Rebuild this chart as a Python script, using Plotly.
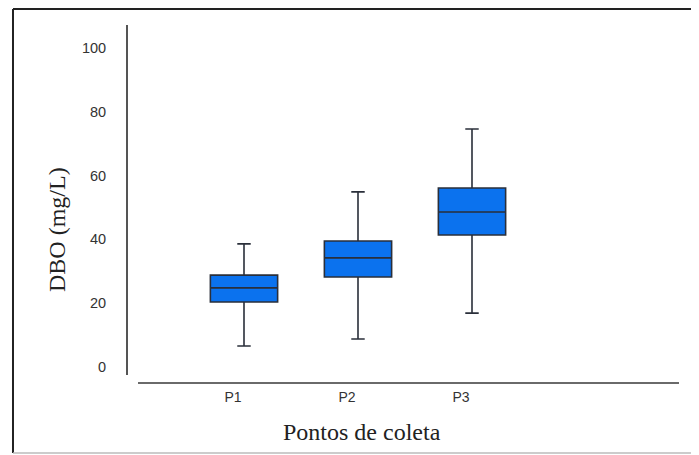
import plotly.graph_objects as go

categories = ["P1", "P2", "P3"]
lower_whisker = [6.6, 8.8, 16.9]
q1_values = [20.4, 28.2, 41.4]
median_values = [24.8, 34.2, 48.6]
q3_values = [28.8, 39.5, 56.1]
upper_whisker = [38.6, 54.9, 74.6]
y_ticks = [0, 20, 40, 60, 80, 100]

fig = go.Figure()
fig.add_trace(go.Box(
    x=categories,
    q1=q1_values,
    median=median_values,
    q3=q3_values,
    lowerfence=lower_whisker,
    upperfence=upper_whisker,
    fillcolor="#0b72ee",
    line=dict(color="#2a2f3a", width=1.6),
    whiskerwidth=0.2,
    width=0.59,
    boxpoints=False,
    showlegend=False,
))

# page body has an 8px margin, so the figure is offset by 8px
fig.update_layout(
    width=699, height=455,
    margin=dict(l=120, r=29, t=17, b=88),
    paper_bgcolor="white", plot_bgcolor="white",
    xaxis=dict(
        range=[-1.0175, 3.807], showgrid=False, zeroline=False, showline=False,
        ticks="", tickfont=dict(family="Liberation Sans, Arial", size=14, color="#333"),
        ticklabelstandoff=12, ticklabelshift=-11,
    ),
    yaxis=dict(
        range=[-2.5, 107.2], tickvals=y_ticks, showgrid=False, zeroline=False,
        showline=True, linecolor="#555", linewidth=2, ticks="",
        tickfont=dict(family="Liberation Sans, Arial", size=14.5, color="#333"),
        ticklabelstandoff=17,
    ),
    annotations=[
        dict(text="DBO (mg/L)", xref="paper", yref="paper", x=-0.1291, y=0.4171,
             textangle=-90, showarrow=False, xanchor="center", yanchor="middle",
             font=dict(family="Liberation Serif, Times New Roman", size=24, color="#222")),
        dict(text="Pontos de coleta", xref="paper", yref="paper", x=0.4255, y=-0.163,
             showarrow=False, xanchor="center", yanchor="middle",
             font=dict(family="Liberation Serif, Times New Roman", size=24, color="#222")),
    ],
    shapes=[
        dict(type="line", xref="paper", yref="paper", x0=0.0182, x1=1.0018,
             y0=-0.0229, y1=-0.0229, line=dict(color="#6a6a6a", width=2)),
        dict(type="line", xref="paper", yref="paper", x0=-0.2091, x1=-0.2091,
             y0=-0.2229, y1=1.0457, line=dict(color="#222", width=2)),
        dict(type="line", xref="paper", yref="paper", x0=-0.2091, x1=1.06,
             y0=1.0457, y1=1.0457, line=dict(color="#222", width=2)),
        dict(type="line", xref="paper", yref="paper", x0=-0.2091, x1=1.06,
             y0=-0.2229, y1=-0.2229, line=dict(color="#bbb", width=1.5)),
    ],
)

fig.write_html("out.html")
